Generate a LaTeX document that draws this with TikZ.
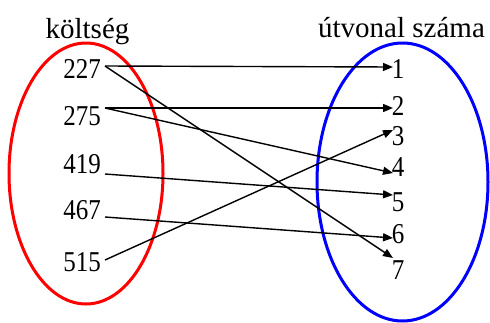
\documentclass[tikz,border=0pt]{standalone}
\usepackage{fontspec}
\setmainfont{Liberation Serif}
\newfontfamily\tnr{Liberation Serif}
\usetikzlibrary{arrows.meta}
\begin{document}
\begin{tikzpicture}[x=1pt,y=-1pt,
  head/.style={font=\tnr\fontsize{29}{30}\selectfont, anchor=base, inner sep=0pt},
  num/.style={font=\tnr\fontsize{25}{26}\selectfont, anchor=base, inner sep=0pt},
  conn/.style={line width=1.4pt, -{Triangle[length=10pt,width=8pt]}},
  setl/.style={line width=3pt}
]
\useasboundingbox (0,0) rectangle (490,322);
\draw[setl, red] (86,173.5) ellipse [x radius=77pt, y radius=130.5pt];
\draw[setl, blue] (402.5,182) ellipse [x radius=85.5pt, y radius=139pt];

\node[head] (hl) at (87.5,38) {költség};
\node[head] (hr) at (401.5,37) {útvonal száma};

\node[num] (n227) at (82,78) {\scalebox{1}[1.15]{227}};
\node[num] (n275) at (82,125) {\scalebox{1}[1.15]{275}};
\node[num] (n419) at (82,173) {\scalebox{1}[1.15]{419}};
\node[num] (n467) at (82,219) {\scalebox{1}[1.15]{467}};
\node[num] (n515) at (82,271) {\scalebox{1}[1.15]{515}};

\node[num] (r1) at (398,78) {\scalebox{1}[1.15]{1}};
\node[num] (r2) at (398,115) {\scalebox{1}[1.15]{2}};
\node[num] (r3) at (398,145) {\scalebox{1}[1.15]{3}};
\node[num] (r4) at (398,176) {\scalebox{1}[1.15]{4}};
\node[num] (r5) at (398,211) {\scalebox{1}[1.15]{5}};
\node[num] (r6) at (398,243) {\scalebox{1}[1.15]{6}};
\node[num] (r7) at (398,279) {\scalebox{1}[1.15]{7}};

\coordinate (s227) at (105,66);
\coordinate (s275) at (105,108);
\coordinate (s419) at (105,174);
\coordinate (s467) at (105,217);
\coordinate (s515) at (105,260);

\coordinate (t1) at (393,67);
\coordinate (t2) at (393,108);
\coordinate (t3) at (393,130);
\coordinate (t4) at (393,173);
\coordinate (t5) at (393,195);
\coordinate (t6) at (393,238);
\coordinate (t7) at (393,258);

\draw[conn] (s227) -- (t1);
\draw[conn] (s227) -- (t7);
\draw[conn] (s275) -- (t2);
\draw[conn] (s275) -- (t4);
\draw[conn] (s419) -- (t5);
\draw[conn] (s467) -- (t6);
\draw[conn] (s515) -- (t3);
\end{tikzpicture}
\end{document}
